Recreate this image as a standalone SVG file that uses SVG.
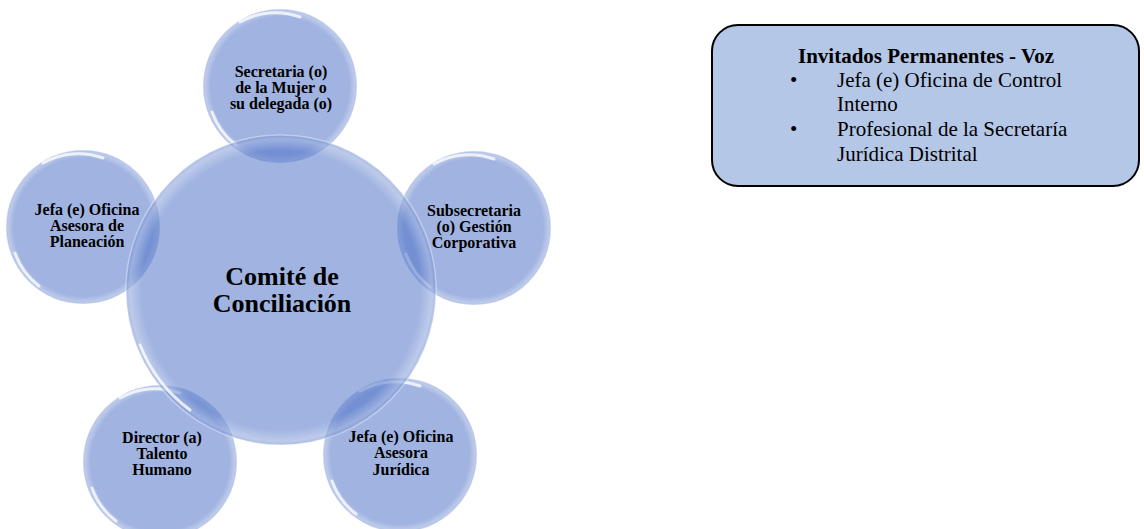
<svg xmlns="http://www.w3.org/2000/svg" width="1144" height="529" viewBox="0 0 1144 529">
<defs>
<radialGradient id="rim" cx="0.5" cy="0.5" r="0.5">
<stop offset="0" stop-color="#ffffff" stop-opacity="0"/>
<stop offset="0.9" stop-color="#ffffff" stop-opacity="0"/>
<stop offset="0.975" stop-color="#ffffff" stop-opacity="0.3"/>
<stop offset="1" stop-color="#ffffff" stop-opacity="0.1"/>
</radialGradient>
<style>
.bub{fill:#4A70C6;fill-opacity:0.52;stroke:#ffffff;stroke-opacity:0.4;stroke-width:1.5}
.rim{fill:url(#rim)}
.gl{fill:none;stroke:#ffffff;stroke-opacity:0.75;stroke-width:3;stroke-linecap:round}
.t{font-family:"Liberation Serif","Times New Roman",serif;font-weight:bold;font-size:16px;fill:#000;text-anchor:middle}
.tc{font-family:"Liberation Serif","Times New Roman",serif;font-weight:bold;font-size:26px;fill:#000;text-anchor:middle}
.bx{font-family:"Liberation Serif","Times New Roman",serif;font-size:21px;fill:#000}
</style>
</defs>
<rect width="1144" height="529" fill="#ffffff"/>
<g id="connectors"/>
<g id="node-secretaria">
<circle class="bub" cx="280" cy="86" r="77"/>
<circle class="rim" cx="280" cy="86" r="77"/>
<path class="gl" d="M212 112 A72 72 0 0 0 236 145"/>
<path class="gl" d="M240 22 A72 72 0 0 1 300 17" stroke-opacity="0.4"/>
<text class="t" x="281" y="77">Secretaria (o)</text>
<text class="t" x="281" y="93">de la Mujer o</text>
<text class="t" x="281" y="109">su delegada (o)</text>
</g>
<g id="node-planeacion">
<circle class="bub" cx="83" cy="227" r="77"/>
<circle class="rim" cx="83" cy="227" r="77"/>
<path class="gl" d="M15 253 A72 72 0 0 0 39 286"/>
<path class="gl" d="M43 163 A72 72 0 0 1 103 158" stroke-opacity="0.4"/>
<text class="t" x="87" y="215">Jefa (e) Oficina</text>
<text class="t" x="87" y="231">Asesora de</text>
<text class="t" x="87" y="247">Planeación</text>
</g>
<g id="node-subsecretaria">
<circle class="bub" cx="474" cy="228" r="77"/>
<circle class="rim" cx="474" cy="228" r="77"/>
<path class="gl" d="M406 254 A72 72 0 0 0 430 287"/>
<path class="gl" d="M434 164 A72 72 0 0 1 494 159" stroke-opacity="0.4"/>
<text class="t" x="474" y="216">Subsecretaria</text>
<text class="t" x="474" y="232">(o) Gestión</text>
<text class="t" x="474" y="248">Corporativa</text>
</g>
<g id="node-talento">
<circle class="bub" cx="160" cy="462" r="77"/>
<circle class="rim" cx="160" cy="462" r="77"/>
<path class="gl" d="M92 488 A72 72 0 0 0 116 521"/>
<path class="gl" d="M120 398 A72 72 0 0 1 180 393" stroke-opacity="0.4"/>
<text class="t" x="162" y="443">Director (a)</text>
<text class="t" x="162" y="459">Talento</text>
<text class="t" x="162" y="475">Humano</text>
</g>
<g id="node-juridica">
<circle class="bub" cx="400" cy="455" r="77"/>
<circle class="rim" cx="400" cy="455" r="77"/>
<path class="gl" d="M332 481 A72 72 0 0 0 356 514"/>
<path class="gl" d="M360 391 A72 72 0 0 1 420 386" stroke-opacity="0.4"/>
<text class="t" x="401" y="442">Jefa (e) Oficina</text>
<text class="t" x="401" y="458">Asesora</text>
<text class="t" x="401" y="475">Jurídica</text>
</g>
<g id="node-comite">
<circle class="bub" cx="281" cy="290" r="155"/>
<circle class="rim" cx="281" cy="290" r="155"/>
<path class="gl" d="M140 345 A150 150 0 0 0 190 410" stroke-opacity="0.5"/>
<text class="tc" x="282" y="285">Comité de</text>
<text class="tc" x="282" y="312">Conciliación</text>
</g>
<g id="node-invitados">
<rect x="712" y="25" width="427" height="161" rx="26" ry="26" fill="#B4C7E7" stroke="#000" stroke-width="2"/>
<text class="bx" x="926" y="63" text-anchor="middle" font-weight="bold">Invitados Permanentes - Voz</text>
<text class="bx" x="790" y="87">•</text>
<text class="bx" x="837" y="87">Jefa (e) Oficina de Control</text>
<text class="bx" x="837" y="111">Interno</text>
<text class="bx" x="790" y="136">•</text>
<text class="bx" x="837" y="136">Profesional de la Secretaría</text>
<text class="bx" x="837" y="161">Jurídica Distrital</text>
</g>
</svg>
